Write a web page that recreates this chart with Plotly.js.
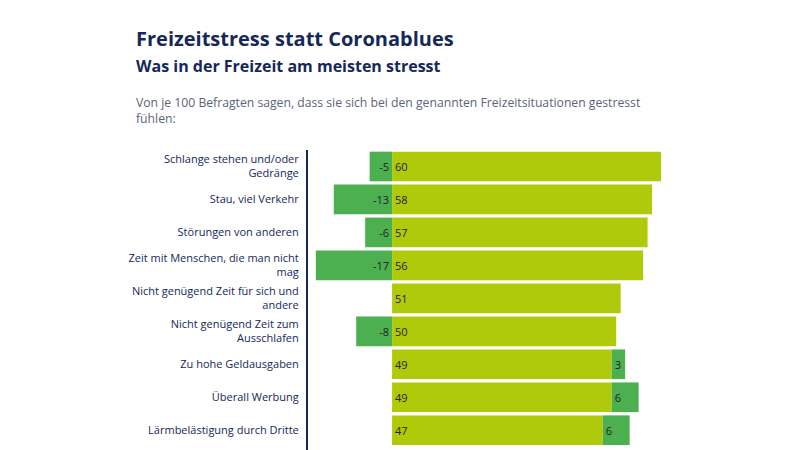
<!DOCTYPE html>
<html>
<head>
<meta charset="utf-8">
<script src="https://cdn.plot.ly/plotly-3.0.1.min.js"></script>
<style>body{margin:0;background:#fff}#chart{width:800px;height:450px}</style>
</head>
<body>
<div id="chart"></div>
<script>
const categories = [
  'Schlange stehen und/oder<br>Gedränge',
  'Stau, viel Verkehr',
  'Störungen von anderen',
  'Zeit mit Menschen, die man nicht<br>mag',
  'Nicht genügend Zeit für sich und<br>andere',
  'Nicht genügend Zeit zum<br>Ausschlafen',
  'Zu hohe Geldausgaben',
  'Überall Werbung',
  'Lärmbelästigung durch Dritte'
];
const negValues = [-5, -13, -6, -17, null, -8, null, null, null];
const posValues = [60, 58, 57, 56, 51, 50, 49, 49, 47];
const extraValues = [null, null, null, null, null, null, 3, 6, 6];

const navy = '#14285a';
const dark = '#4caf50';
const lime = '#afca0b';

function trace(vals, color) {
  return {
    type: 'bar', orientation: 'h', y: categories, x: vals,
    marker: {color: color},
    text: vals.map(v => v === null ? '' : String(v)),
    textposition: 'inside', insidetextanchor: 'start',
    textfont: {color: '#222', size: 11, family: 'Open Sans'},
    cliponaxis: false, hoverinfo: 'skip'
  };
}

const layout = {
  width: 800, height: 450,
  margin: {l: 308, r: 130, t: 150, b: 0},
  barmode: 'relative', bargap: 0.1, showlegend: false,
  paper_bgcolor: '#fff', plot_bgcolor: '#fff',
  font: {family: 'Open Sans', color: navy},
  xaxis: {range: [-18.75, 62], visible: false, fixedrange: true},
  yaxis: {
    type: 'category', range: [8.6, -0.5],
    showline: true, linecolor: navy, linewidth: 2,
    ticks: '', ticklabelstandoff: 5,
    tickfont: {size: 11, color: navy, family: 'Open Sans'},
    showgrid: false, zeroline: false
  },
  annotations: [
    {text: '<b>Freizeitstress statt Coronablues</b>', xref: 'paper', yref: 'paper',
     x: -0.48, xanchor: 'left', y: 1 + 112 / 300, yanchor: 'middle', showarrow: false,
     font: {size: 20, color: navy, family: 'Open Sans'}},
    {text: '<b>Was in der Freizeit am meisten stresst</b>', xref: 'paper', yref: 'paper',
     x: -0.48, xanchor: 'left', y: 1 + 84 / 300, yanchor: 'middle', showarrow: false,
     font: {size: 16, color: navy, family: 'Open Sans'}},
    {text: 'Von je 100 Befragten sagen, dass sie sich bei den genannten Freizeitsituationen gestresst<br>fühlen:',
     xref: 'paper', yref: 'paper', x: -0.48, xanchor: 'left', align: 'left',
     y: 1 + 40 / 300, yanchor: 'middle', showarrow: false,
     font: {size: 12.2, color: '#5a6478', family: 'Open Sans'}}
  ]
};

Plotly.newPlot('chart', [trace(negValues, dark), trace(posValues, lime), trace(extraValues, dark)], layout, {displayModeBar: false, staticPlot: true});
</script>
</body>
</html>
